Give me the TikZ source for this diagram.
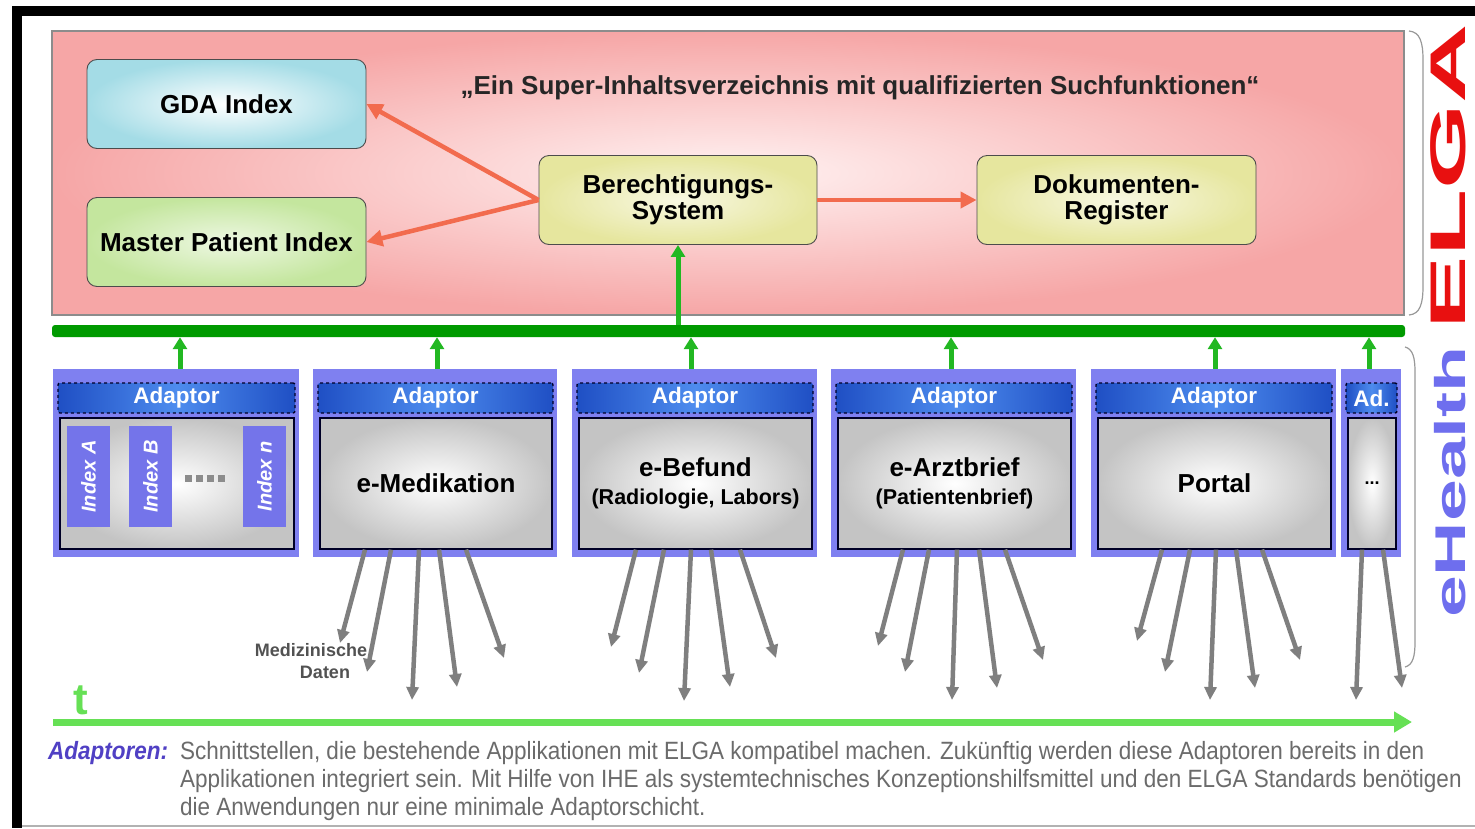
\documentclass[tikz,border=0pt]{standalone}
\usepackage{fontspec}
\setmainfont{Liberation Sans}
\newfontfamily\narrowfont{Liberation Sans}[FakeStretch=0.9]
\usetikzlibrary{arrows.meta}
\definecolor{pinkbg}{HTML}{F6A6A6}
\definecolor{pinkin}{HTML}{FFF2F2}
\definecolor{gdacol}{HTML}{A4DCE6}
\definecolor{mpicol}{HTML}{C4E69E}
\definecolor{yelcol}{HTML}{E6E69E}
\definecolor{redarr}{HTML}{F26B4E}
\definecolor{busgreen}{HTML}{009A00}
\definecolor{upgreen}{HTML}{22B822}
\definecolor{adblue}{HTML}{7F80F0}
\definecolor{hddark}{HTML}{1F4FC4}
\definecolor{hdlight}{HTML}{4E8CEE}
\definecolor{innergray}{HTML}{C4C4C4}
\definecolor{idxblue}{HTML}{7474EA}
\definecolor{arrgray}{HTML}{7F7F7F}
\definecolor{timegreen}{HTML}{66E055}
\definecolor{capgray}{HTML}{6B6B6B}
\definecolor{capblue}{HTML}{5040C4}
\definecolor{elgared}{HTML}{E81010}
\definecolor{ehblue}{HTML}{6E6EEE}
\begin{document}
\begin{tikzpicture}[x=1pt,y=-1pt,
  topbox/.style={draw=black!70, line width=0.9pt, rounded corners=10pt, inner sep=0pt,
    minimum width=279pt, minimum height=89pt, align=center,
    font=\bfseries\fontsize{26}{26}\selectfont},
  redarrow/.style={draw=redarr, line width=4.5pt, -{Triangle[length=16pt,width=16pt]}},
  uparrow/.style={draw=upgreen, line width=5pt, -{Triangle[length=12pt,width=14pt]}},
  grayarrow/.style={draw=arrgray, line width=4.5pt, -{Triangle[length=13pt,width=12pt]}},
  adbox/.style={fill=adblue, inner sep=0pt, minimum height=188pt},
  adhead/.style={draw=black!85!blue, dashed, line width=1.4pt, inner sep=0pt, minimum height=30pt,
    rounded corners=2pt, left color=hddark, right color=hddark, middle color=hdlight,
    text=white, font=\bfseries\fontsize{22.5}{24}\selectfont},
  adinner/.style={draw=black!85!blue, line width=1.3pt, inner sep=0pt, minimum height=131pt,
    inner color=white, outer color=innergray, align=center},
  bigtxt/.style={font=\bfseries\fontsize{26}{28}\selectfont},
  twotxt/.style={font=\bfseries\fontsize{21.5}{28}\selectfont},
  idxcol/.style={fill=idxblue, inner sep=0pt, minimum width=101pt, minimum height=43pt,
    rotate=90, text=white, font=\bfseries\itshape\fontsize{20}{22}\selectfont},
  dotsq/.style={fill=arrgray!90, inner sep=0pt, minimum size=7pt},
  medtxt/.style={font=\bfseries\fontsize{18}{20}\selectfont, text=black!68, inner sep=0pt},
  capline/.style={anchor=base west, text=capgray, inner sep=0pt,
    font=\narrowfont\fontsize{25}{27}\selectfont},
]
\useasboundingbox (0,0) rectangle (1475,828);
\fill[white] (0,0) rectangle (1475,828);
% frame
\fill[black] (12,6) rectangle (1475,16);
\fill[black] (12,6) rectangle (22,828);
\draw[black!30, line width=1.5pt] (22,826) -- (1475,826);

% ELGA panel
\node[draw=black!45, line width=1.2pt, inner sep=0pt, minimum width=1352pt, minimum height=284pt,
  inner color=pinkin, outer color=pinkbg] (panel) at (728,173) {};
\node[font=\bfseries\fontsize{26}{28}\selectfont, text=black!85] (title) at (860,88)
  {„Ein Super-Inhaltsverzeichnis mit qualifizierten Suchfunktionen“};

\node[topbox, inner color=white, outer color=gdacol] (gda) at (226.5,104) {GDA Index};
\node[topbox, inner color=white!70!mpicol, outer color=mpicol] (mpi) at (226.5,242) {Master Patient Index};
\node[topbox, inner color=white!70!yelcol, outer color=yelcol, minimum width=278pt] (bs) at (678,200)
  {Berechtigungs-\\System};
\node[topbox, inner color=white!70!yelcol, outer color=yelcol] (dr) at (1116.5,200)
  {Dokumenten-\\Register};

\draw[redarrow] (bs.west) -- (gda.east);
\draw[redarrow] (bs.west) -- (mpi.east);
\draw[redarrow] (bs.east) -- (dr.west);

% bus
\node[fill=busgreen, inner sep=0pt, minimum width=1353pt, minimum height=12pt, rounded corners=3pt]
  (bus) at (728.5,331) {};
\draw[uparrow] (bs.south |- bus.north) -- (bs.south);

% adaptor boxes
\foreach \i/\l/\r/\h in {1/53/299/Adaptor,2/313/557/Adaptor,3/572/817/Adaptor,4/831/1076/Adaptor,5/1091/1336/Adaptor,6/1341/1401/Ad.}{
  \node[adbox, minimum width={\r-\l}] (ad\i) at ({(\l+\r)/2},463) {};
  \node[adhead, minimum width={\r-\l-9}] (hd\i) at ({(\l+\r)/2+0.5},398) {\h};
}
\foreach \i/\x in {1/180,2/437,3/691,4/951,5/1215,6/1369}{
  \draw[uparrow] (ad\i.north -| \x,0) -- (bus.south -| \x,0);
}
\node[adinner, minimum width=234pt] (in1) at (177,483.5) {};
\node[adinner, minimum width=232pt, bigtxt] (in2) at (436,483.5) {e-Medikation};
\node[adinner, minimum width=233pt, twotxt] (in3) at (695.5,483.5)
  {{\fontsize{26}{28}\selectfont e-Befund}\\(Radiologie, Labors)};
\node[adinner, minimum width=233pt, twotxt] (in4) at (954.5,483.5)
  {{\fontsize{26}{28}\selectfont e-Arztbrief}\\(Patientenbrief)};
\node[adinner, minimum width=233pt, bigtxt] (in5) at (1214.5,483.5) {Portal};
\node[adinner, minimum width=48pt, font=\bfseries\fontsize{18}{20}\selectfont] (in6) at (1372,483.5) {...};

% index columns
\node[idxcol] (ixa) at (88.5,476.5) {Index A};
\node[idxcol] (ixb) at (150.5,476.5) {Index B};
\node[idxcol] (ixn) at (264.5,476.5) {Index n};
\foreach \k/\x in {1/188.5,2/199.5,3/210.5,4/221.5}{
  \node[dotsq] (dot\k) at (\x,478) {};
}

% data arrows
\foreach \i/\list in {
  2/{-71/340/643,-45/367/672,-17/412/700,3/457/687,30/504/658},
  3/{-59.5/611/647,-31.5/639/673,-4.5/684/701,15.5/730/687,44.5/776/658},
  4/{-51.5/878/646,-25.5/905/672,2.5/952/700,24.5/997/688,50.5/1043/660},
  5/{-52.5/1137/641,-24.5/1165/672,1.5/1210/700,21.5/1255/688,47.5/1300/660},
  6/{-10/1356/700,11/1402/688}}{
  \foreach \dx/\ex/\ey [count=\j] in \list {
    \coordinate (e\i\j) at (\ex,\ey);
    \draw[grayarrow] ([xshift=\dx pt]in\i.south) -- (e\i\j);
  }
}
\node[medtxt] (med1) at (311,650) {Medizinische};
\node[medtxt] (med2) at (325,672) {Daten};

% braces and side labels
\draw[black!40, line width=1.2pt] (1409,31) .. controls (1420,32) and (1423,42) .. (1423,60)
  -- (1423,286) .. controls (1423,304) and (1420,314) .. (1409,315);
\draw[black!40, line width=1.2pt] (1405,347) .. controls (1413,349) and (1415,358) .. (1415,372)
  -- (1415,642) .. controls (1415,656) and (1413,665) .. (1405,667);
\node[rotate=90, inner sep=0pt, text=elgared] (elga) at (1448,177)
  {\scalebox{2.2}[1]{\bfseries\fontsize{50}{50}\selectfont ELGA}};
\node[rotate=90, inner sep=0pt, text=ehblue] (ehealth) at (1450,482)
  {\scalebox{1.75}[1]{\bfseries\fontsize{43}{43}\selectfont eHealth}};

% time axis
\coordinate (t0) at (53,722);
\coordinate (t1) at (1412,722);
\draw[timegreen, line width=7pt, -{Triangle[length=18pt,width=20pt]}] (t0) -- (t1);
\node[text=timegreen, font=\bfseries\fontsize{44}{44}\selectfont, inner sep=0pt] (tlab) at (81,700) {t};

% caption
\node[capline, text=capblue, font=\narrowfont\bfseries\itshape\fontsize{25}{27}\selectfont] (cap0) at (48,759) {Adaptoren:};
\node[capline] (cap1) at (180,759) {Schnittstellen, die bestehende Applikationen mit ELGA kompatibel machen. Zukünftig werden diese Adaptoren bereits in den};
\node[capline] (cap2) at (180,787) {Applikationen integriert sein. Mit Hilfe von IHE als systemtechnisches Konzeptionshilfsmittel und den ELGA Standards benötigen};
\node[capline] (cap3) at (180,815) {die Anwendungen nur eine minimale Adaptorschicht.};
\end{tikzpicture}
\end{document}
